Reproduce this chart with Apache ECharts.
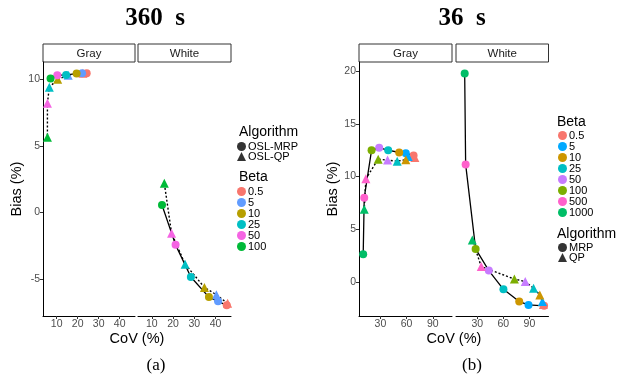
<!DOCTYPE html>
<html>
<head>
<meta charset="utf-8">
<script src="https://cdn.jsdelivr.net/npm/echarts@6/dist/echarts.min.js"></script>
<style>
  html, body { margin: 0; padding: 0; background: #fff; }
  #chart { width: 629px; height: 384px; }
</style>
</head>
<body>
<div id="chart"></div>
<script>
const FONT = '"Liberation Sans", Arial, sans-serif'
const SERIF = '"Liberation Serif", "Times New Roman", serif'

// Beta levels and ggplot colours
const betaA = ['0.5', '5', '10', '25', '50', '100']
const colorsA = ['#F8766D', '#619CFF', '#B79F00', '#00BFC4', '#F564E3', '#00BA38']
const betaB = ['0.5', '5', '10', '25', '50', '100', '500', '1000']
const colorsB = ['#F8766D', '#00A9FF', '#CD9600', '#00BFC4', '#C77CFF', '#7CAE00', '#FF61CC', '#00BE67']

// (a) 360 s - values in beta order
const covAGrayMrp = [24.3, 22.1, 19.5, 14.5, 10.3, 7.1]
const biasAGrayMrp = [10.45, 10.45, 10.43, 10.33, 10.3, 10.05]
const covAGrayQp = [22.5, 15.5, 10.5, 6.5, 5.6, 5.6]
const biasAGrayQp = [10.45, 10.3, 10.0, 9.4, 8.2, 5.65]
const covAWhiteMrp = [45.3, 41.2, 36.9, 28.4, 21.2, 14.8]
const biasAWhiteMrp = [-7.0, -6.7, -6.38, -4.87, -2.45, 0.55]
const covAWhiteQp = [45.7, 40.4, 34.8, 25.7, 19.3, 15.9]
const biasAWhiteQp = [-6.85, -6.2, -5.65, -3.9, -1.57, 2.18]

// (b) 36 s - values in beta order
const covBGrayMrp = [68, 59.1, 51.5, 38.9, 28.6, 19.9, 11.5, 10.3]
const biasBGrayMrp = [12.0, 12.2, 12.28, 12.5, 12.72, 12.5, 8.0, 2.65]
const covBGrayQp = [69.5, 61.8, 59.1, 49.2, 38.2, 27.5, 13.4, 11.5]
const biasBGrayQp = [11.8, 11.9, 11.6, 11.46, 11.56, 11.65, 9.8, 6.9]
const covBWhiteMrp = [106.9, 89, 78.3, 60.1, 43.3, 28.1, 16.6, 15.5]
const biasBWhiteMrp = [-2.24, -2.15, -1.83, -0.67, 1.1, 3.15, 11.15, 19.75]
const covBWhiteQp = [106, 105, 102, 94.8, 85.2, 72.7, 34.6, 24.3]
const biasBWhiteQp = [-2.1, -1.83, -1.2, -0.57, 0.06, 0.3, 1.48, 4.0]

// tick labels
const xTicksA = [10, 20, 30, 40]
const yTicksA = [-5, 0, 5, 10]
const xTicksB = [30, 60, 90]
const yTicksB = [0, 5, 10, 15, 20]

const grids = [
    { left: 43, top: 62, width: 92, height: 254 },
    { left: 138, top: 62, width: 93, height: 254 },
    { left: 359, top: 62, width: 93, height: 254 },
    { left: 456, top: 62, width: 92.5, height: 254 },
]

const tickStyle = { length: 3, lineStyle: { color: '#333', width: 1 } }
const labelStyle = { color: '#4D4D4D', fontSize: 10.5, fontFamily: FONT, margin: 3 }

function xAxis(gridIndex, min, max, ticks) {
    return {
        type: 'value', gridIndex, min, max,
        axisLine: { onZero: false, lineStyle: { color: '#000', width: 1 } },
        axisTick: { ...tickStyle, customValues: ticks },
        axisLabel: { ...labelStyle, customValues: ticks },
        splitLine: { show: false },
    }
}

function yAxis(gridIndex, min, max, ticks, visible) {
    return {
        type: 'value', gridIndex, min, max, show: visible,
        name: visible ? 'Bias (%)' : '',
        nameLocation: 'middle',
        nameGap: 16,
        nameTextStyle: { fontSize: 14.5, fontFamily: FONT, color: '#000' },
        axisLine: { onZero: false, lineStyle: { color: '#000', width: 1 } },
        axisTick: { ...tickStyle, customValues: ticks },
        axisLabel: { ...labelStyle, customValues: ticks },
        splitLine: { show: false },
    }
}

const pts = (xs, ys) => xs.map((x, i) => [x, ys[i]])

function facetSeries(prefix, betas, colors, gi, mx, my, qx, qy) {
    const out = [
        {
            type: 'line', xAxisIndex: gi, yAxisIndex: gi, data: pts(mx, my),
            showSymbol: false, symbol: 'none', silent: true, z: 1,
            lineStyle: { color: '#000', width: 1.3 },
        },
        {
            type: 'line', xAxisIndex: gi, yAxisIndex: gi, data: pts(qx, qy),
            showSymbol: false, symbol: 'none', silent: true, z: 1,
            lineStyle: { color: '#000', width: 1.4, type: [2, 2] },
        },
    ]
    betas.forEach((b, i) => {
        out.push({
            type: 'scatter', name: prefix + '|' + b, xAxisIndex: gi, yAxisIndex: gi,
            data: [[mx[i], my[i]]], symbol: 'circle', symbolSize: 8, z: 2,
            itemStyle: { color: colors[i], opacity: 1 },
        })
        out.push({
            type: 'scatter', name: prefix + '|' + b, xAxisIndex: gi, yAxisIndex: gi,
            data: [[qx[i], qy[i]]], symbol: 'triangle', symbolSize: 9, z: 2,
            itemStyle: { color: colors[i], opacity: 1 },
        })
    })
    return out
}

// empty series so the shape legend has entries
const shapeSeries = ['a|OSL-MRP', 'a|OSL-QP', 'b|MRP', 'b|QP'].map((name, i) => ({
    type: 'scatter', name, data: [], xAxisIndex: i < 2 ? 0 : 2, yAxisIndex: i < 2 ? 0 : 2,
    itemStyle: { color: '#000' },
}))

const legendBase = {
    orient: 'vertical', padding: 0, itemWidth: 9, itemHeight: 9, itemGap: 0,
    selectedMode: false,
    formatter: (n) => n.split('|')[1],
    textStyle: { fontSize: 11, fontFamily: FONT, color: '#000', lineHeight: 9, padding: [0, 0, 0, -3] },
}

const legends = [
    { ...legendBase, left: 237, top: 141, itemGap: -1,
      data: [{ name: 'a|OSL-MRP', icon: 'circle' }, { name: 'a|OSL-QP', icon: 'triangle' }] },
    { ...legendBase, left: 237, top: 186, data: betaA.map((b) => ({ name: 'a|' + b, icon: 'circle' })) },
    { ...legendBase, left: 558, top: 130, data: betaB.map((b) => ({ name: 'b|' + b, icon: 'circle' })) },
    { ...legendBase, left: 558, top: 242, itemGap: -1,
      data: [{ name: 'b|MRP', icon: 'circle' }, { name: 'b|QP', icon: 'triangle' }] },
]

function text(x, y, str, size, extra) {
    return {
        type: 'text', x, y, silent: true,
        style: { text: str, fontSize: size, fontFamily: FONT, fill: '#000', align: 'center', verticalAlign: 'middle', ...extra },
    }
}

function strip(g, label) {
    return [
        { type: 'rect', shape: { x: g.left, y: 44, width: g.width, height: 18 },
          style: { fill: '#fff', stroke: '#333', lineWidth: 1 }, silent: true },
        text(g.left + g.width / 2, 53.5, label, 11.5, { fill: '#1A1A1A' }),
    ]
}

const graphics = [
    text(155, 19, '360  s', 25, { fontFamily: SERIF, fontWeight: 'bold' }),
    text(462, 19, '36  s', 25, { fontFamily: SERIF, fontWeight: 'bold' }),
    text(156, 366, '(a)', 17, { fontFamily: SERIF }),
    text(472, 366, '(b)', 17, { fontFamily: SERIF }),
    text(137, 339, 'CoV (%)', 14.5),
    text(454, 339, 'CoV (%)', 14.5),
    text(239, 132, 'Algorithm', 14, { align: 'left' }),
    text(239, 177, 'Beta', 14, { align: 'left' }),
    text(557, 122, 'Beta', 14, { align: 'left' }),
    text(557, 234, 'Algorithm', 14, { align: 'left' }),
    ...strip(grids[0], 'Gray'),
    ...strip(grids[1], 'White'),
    ...strip(grids[2], 'Gray'),
    ...strip(grids[3], 'White'),
]

const chart = echarts.init(document.getElementById('chart'))
chart.setOption({
    animation: false,
    backgroundColor: '#fff',
    grid: grids,
    xAxis: [
        xAxis(0, 3.5, 47.3, xTicksA),
        xAxis(1, 3.5, 47.3, xTicksA),
        xAxis(2, 5.5, 112, xTicksB),
        xAxis(3, 5.5, 112, xTicksB),
    ],
    yAxis: [
        yAxis(0, -7.8, 11.3, yTicksA, true),
        yAxis(1, -7.8, 11.3, yTicksA, false),
        yAxis(2, -3.2, 20.85, yTicksB, true),
        yAxis(3, -3.2, 20.85, yTicksB, false),
    ],
    legend: legends,
    graphic: graphics,
    series: [
        ...facetSeries('a', betaA, colorsA, 0, covAGrayMrp, biasAGrayMrp, covAGrayQp, biasAGrayQp),
        ...facetSeries('a', betaA, colorsA, 1, covAWhiteMrp, biasAWhiteMrp, covAWhiteQp, biasAWhiteQp),
        ...facetSeries('b', betaB, colorsB, 2, covBGrayMrp, biasBGrayMrp, covBGrayQp, biasBGrayQp),
        ...facetSeries('b', betaB, colorsB, 3, covBWhiteMrp, biasBWhiteMrp, covBWhiteQp, biasBWhiteQp),
        ...shapeSeries,
    ],
})
</script>
</body>
</html>
